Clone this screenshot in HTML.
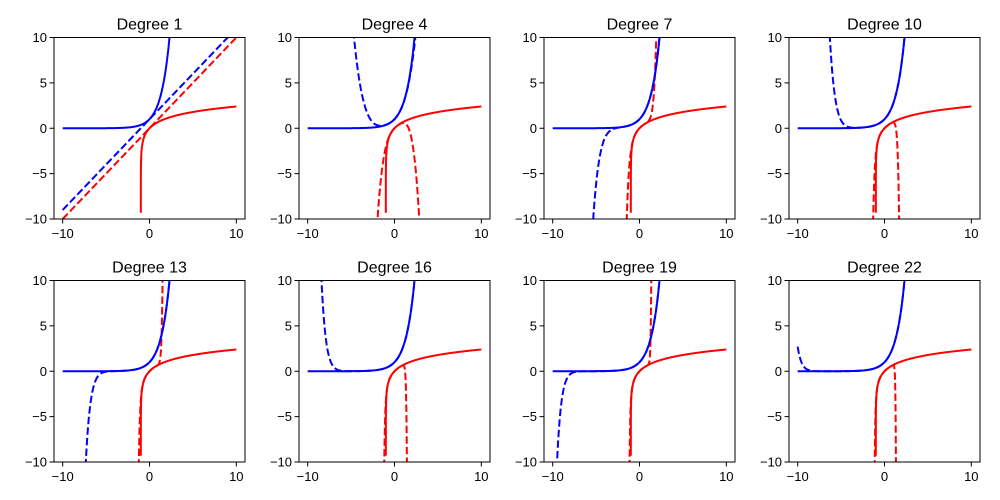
<!DOCTYPE html>
<html><head><meta charset="utf-8"><style>
html,body{margin:0;padding:0;background:#fff;width:1000px;height:500px;overflow:hidden}
svg{display:block;font-family:"Liberation Sans","DejaVu Sans",sans-serif;overflow:hidden}
</style></head><body>
<svg id="fig" width="1000" height="500" viewBox="0 0 1000 500" xmlns="http://www.w3.org/2000/svg"></svg>
<script>
const degrees = [1, 4, 7, 10, 13, 16, 19, 22];
const xDomain = [-10, 10];
const yTicks = [-10, -5, 0, 5, 10];
const xTicks = [-10, 0, 10];
const titlePrefix = "Degree ";

const NS = "http://www.w3.org/2000/svg";
const fig = document.getElementById("fig");
const colLeft = [54, 299, 544, 789];
const rowTop = [37.5, 280.5];
const W = 191, H = 181.5;
const xMin = -11, xMax = 11, yMin = -10, yMax = 10;

function el(tag, attrs, parent) {
  const e = document.createElementNS(NS, tag);
  for (const k in attrs) e.setAttribute(k, attrs[k]);
  parent.appendChild(e);
  return e;
}
function fact(k){let f=1;for(let i=2;i<=k;i++)f*=i;return f;}
function expTaylor(x,n){let s=0;for(let k=0;k<=n;k++)s+=Math.pow(x,k)/fact(k);return s;}
function logTaylor(x,n){let s=0;for(let k=1;k<=n;k++)s+=(k%2?1:-1)*Math.pow(x,k)/k;return s;}

degrees.forEach((deg, i) => {
  const L = colLeft[i % 4], T = rowTop[Math.floor(i / 4)];
  const sx = v => L + (v - xMin) / (xMax - xMin) * W;
  const sy = v => T + (yMax - v) / (yMax - yMin) * H;
  const g = el("g", {}, fig);
  
  
  const cid = "clip" + i;
  const cp = el("clipPath", {id: cid}, g);
  el("rect", {x: L, y: T, width: W, height: H}, cp);
  const plot = el("g", {"clip-path": "url(#" + cid + ")"}, g);
  
  

  function line(fn, from, color, dashed, name) {
    const pts = [];
    const N = 4000;
    if (from !== null) pts.push([from, fn(from)]);
    for (let j = 0; j <= N; j++) {
      const x = xDomain[0] + (xDomain[1] - xDomain[0]) * j / N;
      if (from !== null && x <= from) continue;
      pts.push([x, fn(x)]);
    }
    const d = pts.map((p, k) => {
      const y = Math.max(-10.3, Math.min(10.3, p[1]));
      return (k ? "L" : "M") + sx(p[0]).toFixed(2) + "," + sy(y).toFixed(2);
    }).join("");
    const p = el("path", {d: d, fill: "none", stroke: color, "stroke-width": 2,
      "stroke-dasharray": dashed ? "7.4,3.2" : "none", "stroke-linejoin": "round"}, plot);
    
    
  }
  line(x => Math.log(1 + x), -1 + 9e-5, "#ff0000", false, "log-curve");
  line(x => logTaylor(x, deg), null, "#ff0000", true, "log-taylor-curve");
  line(x => Math.exp(x), null, "#0000ff", false, "exp-curve");
  line(x => expTaylor(x, deg), null, "#0000ff", true, "exp-taylor-curve");

  const fr = el("rect", {x: L, y: T, width: W, height: H, fill: "none", stroke: "#000", "stroke-width": 1}, g);
  
  

  yTicks.forEach(v => {
    const y = sy(v);
    el("line", {x1: L - 4.5, x2: L, y1: y, y2: y, stroke: "#000", "stroke-width": 1}, g);
    const t = el("text", {x: L - 7, y: y + 4.5, "text-anchor": "end", "font-size": 13, fill: "#000"}, g);
    t.textContent = v < 0 ? "\u2212" + Math.abs(v) : String(v);
    
    
  });
  xTicks.forEach(v => {
    const x = sx(v);
    el("line", {x1: x, x2: x, y1: T + H, y2: T + H + 4.5, stroke: "#000", "stroke-width": 1}, g);
    const t = el("text", {x: x, y: T + H + 19, "text-anchor": "middle", "font-size": 13, fill: "#000"}, g);
    t.textContent = v < 0 ? "\u2212" + Math.abs(v) : String(v);
    
    
  });
  const title = el("text", {x: L + W / 2, y: T - 8, "text-anchor": "middle", "font-size": 16, fill: "#000"}, g);
  title.textContent = titlePrefix + deg;
  
  
});
</script>
</body></html>
